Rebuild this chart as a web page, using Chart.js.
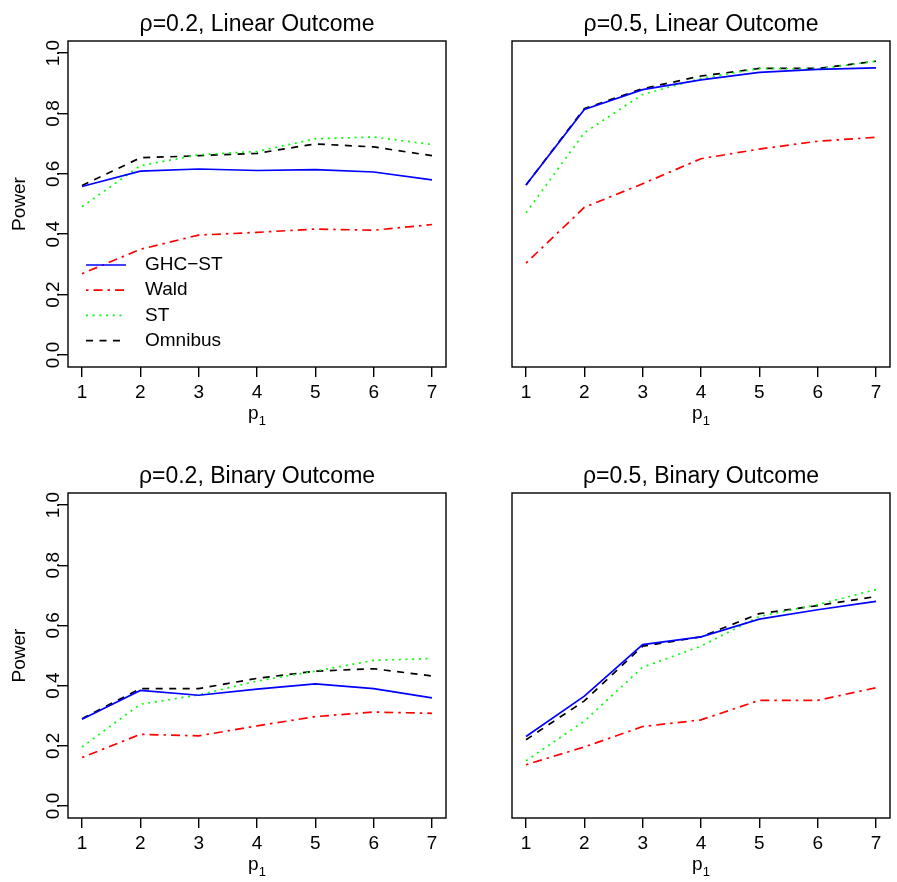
<!DOCTYPE html>
<html>
<head>
<meta charset="utf-8">
<script src="https://cdn.jsdelivr.net/npm/chart.js@4/dist/chart.umd.min.js"></script>
<style>
  body { margin: 0; background: #fff; width: 897px; height: 882px; position: relative; overflow: hidden; }
  canvas { position: absolute; }
</style>
</head>
<body>
<canvas id="linear02" width="450" height="441" style="left:0;top:0"></canvas>
<canvas id="linear05" width="447" height="441" style="left:450px;top:0"></canvas>
<canvas id="binary02" width="450" height="441" style="left:0;top:441px"></canvas>
<canvas id="binary05" width="447" height="441" style="left:450px;top:441px"></canvas>
<script>
// Axis values
const p1Values = [1, 2, 3, 4, 5, 6, 7];
const yTickValues = [0, 0.2, 0.4, 0.6, 0.8, 1.0];
const seriesNames = ['GHC\u2212ST', 'Wald', 'ST', 'Omnibus'];

// rho = 0.2, linear outcome
const linear02GhcSt   = [0.558, 0.609, 0.616, 0.611, 0.614, 0.606, 0.580];
const linear02Wald    = [0.269, 0.350, 0.397, 0.406, 0.417, 0.413, 0.432];
const linear02St      = [0.491, 0.627, 0.663, 0.674, 0.716, 0.722, 0.697];
const linear02Omnibus = [0.561, 0.653, 0.660, 0.668, 0.699, 0.689, 0.660];

// rho = 0.5, linear outcome
const linear05GhcSt   = [0.563, 0.813, 0.879, 0.911, 0.936, 0.946, 0.951];
const linear05Wald    = [0.304, 0.489, 0.567, 0.650, 0.682, 0.708, 0.721];
const linear05St      = [0.471, 0.736, 0.863, 0.916, 0.949, 0.947, 0.973];
const linear05Omnibus = [0.563, 0.816, 0.882, 0.924, 0.949, 0.949, 0.973];

// rho = 0.2, binary outcome
const binary02GhcSt   = [0.288, 0.384, 0.368, 0.388, 0.406, 0.390, 0.359];
const binary02Wald    = [0.161, 0.238, 0.233, 0.266, 0.297, 0.312, 0.308];
const binary02St      = [0.196, 0.338, 0.369, 0.415, 0.448, 0.484, 0.490];
const binary02Omnibus = [0.290, 0.390, 0.390, 0.424, 0.448, 0.456, 0.432];

// rho = 0.5, binary outcome
const binary05GhcSt   = [0.231, 0.365, 0.536, 0.562, 0.621, 0.652, 0.680];
const binary05Wald    = [0.137, 0.196, 0.264, 0.286, 0.351, 0.351, 0.393];
const binary05St      = [0.150, 0.282, 0.461, 0.531, 0.630, 0.669, 0.719];
const binary05Omnibus = [0.220, 0.349, 0.531, 0.562, 0.639, 0.666, 0.696];

const FONT = '"Liberation Sans", Arial, Helvetica, sans-serif';
Chart.defaults.font.family = FONT;
Chart.defaults.font.size = 19;
Chart.defaults.color = '#000';

// R-ish line types: solid, dotdash, dotted, dashed
const STYLES = [
  { color: '#0000ff', dash: [] },
  { color: '#ff0000', dash: [2.5, 5, 9, 5] },
  { color: '#00ff00', dash: [2, 4.7] },
  { color: '#000000', dash: [7, 6.5] },
];

// box, title, axis titles and legend, drawn in base-graphics style
const rFrame = {
  id: 'rFrame',
  afterDraw(chart, args, opts) {
    const { ctx, chartArea: a } = chart;
    const cx = (a.left + a.right) / 2;
    ctx.save();
    ctx.strokeStyle = '#000';
    ctx.lineWidth = 1.4;
    ctx.setLineDash([]);
    ctx.strokeRect(a.left, a.top, a.right - a.left, a.bottom - a.top);

    ctx.fillStyle = '#000';
    ctx.textAlign = 'center';
    ctx.textBaseline = 'alphabetic';
    ctx.font = '23px ' + FONT;
    ctx.fillText(opts.title, cx, a.top - 10);

    // x label: p with subscript 1
    ctx.font = '19px ' + FONT;
    const pw = ctx.measureText('p').width;
    ctx.font = '13px ' + FONT;
    const sw = ctx.measureText('1').width;
    const x0 = cx - (pw + sw) / 2;
    ctx.textAlign = 'left';
    ctx.font = '19px ' + FONT;
    ctx.fillText('p', x0, a.bottom + 52);
    ctx.font = '13px ' + FONT;
    ctx.fillText('1', x0 + pw, a.bottom + 58);

    if (opts.yLabel) {
      ctx.save();
      ctx.translate(20, (a.top + a.bottom) / 2);
      ctx.rotate(-Math.PI / 2);
      ctx.textAlign = 'center';
      ctx.textBaseline = 'middle';
      ctx.font = '19px ' + FONT;
      ctx.fillText(opts.yLabel, 0, 0);
      ctx.restore();
    }

    if (opts.legend) {
      ctx.font = '19px ' + FONT;
      ctx.textBaseline = 'middle';
      ctx.textAlign = 'left';
      seriesNames.forEach((name, i) => {
        const y = a.top + 224 + i * 25.2;
        ctx.strokeStyle = STYLES[i].color;
        ctx.lineWidth = 1.7;
        ctx.setLineDash(STYLES[i].dash);
        ctx.beginPath();
        ctx.moveTo(a.left + 18, y);
        ctx.lineTo(a.left + 58, y);
        ctx.stroke();
        ctx.fillText(name, a.left + 77, y);
      });
    }
    ctx.restore();
  },
};

function powerChart(canvasId, title, series, opt) {
  const ctx = document.getElementById(canvasId);
  return new Chart(ctx, {
    type: 'line',
    data: {
      datasets: series.map((values, i) => ({
        label: seriesNames[i],
        data: p1Values.map((x, j) => ({ x, y: values[j] })),
        borderColor: STYLES[i].color,
        borderDash: STYLES[i].dash,
        borderWidth: 1.7,
        pointRadius: 0,
        tension: 0,
        fill: false,
      })),
    },
    options: {
      responsive: false,
      animation: false,
      events: [],
      layout: { padding: opt.padding },
      plugins: {
        legend: { display: false },
        tooltip: { enabled: false },
        rFrame: { title, yLabel: opt.showY ? 'Power' : null, legend: !!opt.legend },
      },
      scales: {
        x: {
          type: 'linear',
          min: 0.76,
          max: 7.24,
          afterBuildTicks: (s) => { s.ticks = p1Values.map((v) => ({ value: v })); },
          afterFit: (s) => { s.height = opt.xHeight; },
          grid: { drawOnChartArea: false, tickLength: 10, color: '#000', lineWidth: 1.4 },
          border: { display: false },
          ticks: { maxRotation: 0, autoSkip: false, padding: 4, callback: (v) => String(v) },
        },
        y: {
          display: opt.showY,
          min: -0.04,
          max: 1.04,
          afterBuildTicks: (s) => { s.ticks = yTickValues.map((v) => ({ value: v })); },
          afterFit: (s) => { s.width = opt.showY ? 68 : 0; },
          grid: { drawOnChartArea: false, tickLength: 10, color: '#000', lineWidth: 1.4 },
          border: { display: false },
          ticks: {
            minRotation: 90, maxRotation: 90, crossAlign: 'center', padding: -9,
            callback: (v) => v.toFixed(1),
          },
        },
      },
    },
    plugins: [rFrame],
  });
}

powerChart('linear02', '\u03c1=0.2, Linear Outcome',
  [linear02GhcSt, linear02Wald, linear02St, linear02Omnibus],
  { showY: true, legend: true, xHeight: 74, padding: { top: 41, right: 4, left: 0, bottom: 0 } });
powerChart('linear05', '\u03c1=0.5, Linear Outcome',
  [linear05GhcSt, linear05Wald, linear05St, linear05Omnibus],
  { showY: false, xHeight: 74, padding: { top: 41, right: 7, left: 62, bottom: 0 } });
powerChart('binary02', '\u03c1=0.2, Binary Outcome',
  [binary02GhcSt, binary02Wald, binary02St, binary02Omnibus],
  { showY: true, xHeight: 64, padding: { top: 52, right: 4, left: 0, bottom: 0 } });
powerChart('binary05', '\u03c1=0.5, Binary Outcome',
  [binary05GhcSt, binary05Wald, binary05St, binary05Omnibus],
  { showY: false, xHeight: 64, padding: { top: 52, right: 7, left: 62, bottom: 0 } });
</script>
</body>
</html>
